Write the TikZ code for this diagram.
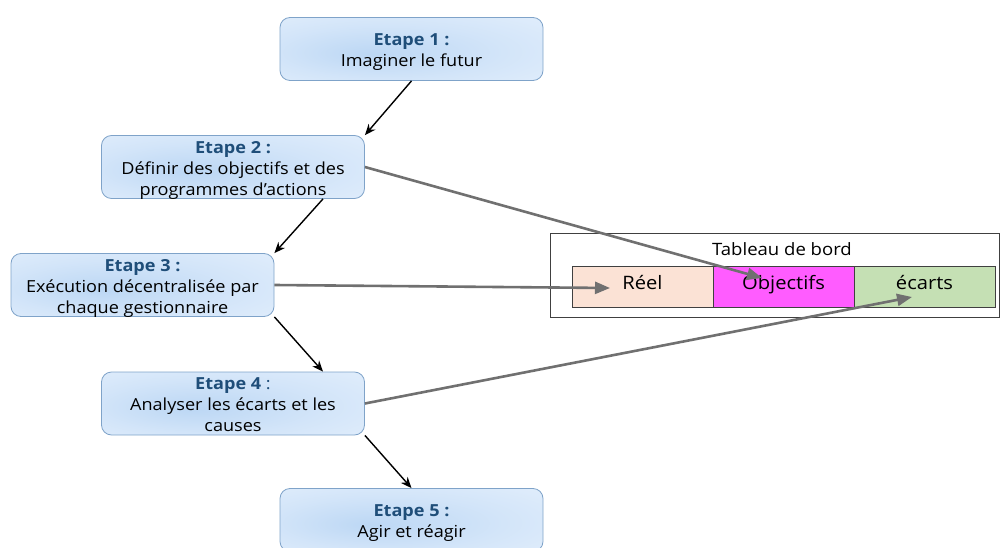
\documentclass[tikz,border=0pt]{standalone}
\usepackage{fontspec}
\setmainfont{Open Sans}[FakeStretch=1.09]
\usetikzlibrary{arrows.meta,calc}
\definecolor{boxborder}{HTML}{7FA3C9}
\definecolor{boxin}{HTML}{BCD7F4}
\definecolor{boxmid}{HTML}{D3E5F9}
\definecolor{boxout}{HTML}{EAF3FD}
\definecolor{titleblue}{HTML}{1F4E79}
\definecolor{linegray}{HTML}{707070}
\definecolor{reelc}{HTML}{FBE2D5}
\definecolor{objc}{HTML}{FF5CFF}
\definecolor{ecartc}{HTML}{C5E0B4}
\definecolor{cellborder}{HTML}{404040}
\pgfdeclareradialshading{boxshade}{\pgfpoint{-8bp}{-4bp}}{color(0bp)=(boxin); color(22bp)=(boxmid); color(50bp)=(boxout)}
\tikzset{
  stepbox/.style={draw=boxborder, line width=0.8pt, rounded corners=10pt,
    shading=boxshade,
    minimum width=263pt, minimum height=63pt,
    font=\fontsize{16.6}{21}\selectfont, inner sep=0pt},
  blackarrow/.style={line width=1.4pt, -{Stealth[length=11pt,width=9pt]}},
  grayarrow/.style={draw=linegray, line width=2.6pt, -{Triangle[length=15pt,width=12pt]}},
  cell/.style={draw=cellborder, line width=0.8pt, minimum width=141pt, minimum height=41pt,
    font=\fontsize{18.5}{20}\selectfont, inner sep=0pt, text height=1.6ex, text depth=0.35ex},
}
\newcommand{\ttl}[1]{\textcolor{titleblue}{\textbf{#1}}}
\newcommand{\boxtext}[1]{\raisebox{-7.5pt}[0pt][0pt]{\begin{tabular}{@{}c@{}}#1\end{tabular}}}
\begin{document}
\begin{tikzpicture}[x=1pt,y=-1pt]
\useasboundingbox (0,0) rectangle (1001,548);
\node[stepbox] (e1) at (411.5,49) {\boxtext{\ttl{Etape 1 :}\\Imaginer le futur}};
\node[stepbox] (e2) at (233,167) {\boxtext{\ttl{Etape 2 :}\\Définir des objectifs et des\\programmes d'actions}};
\node[stepbox] (e3) at (142.5,285) {\boxtext{\ttl{Etape 3 :}\\Exécution décentralisée par\\chaque gestionnaire}};
\node[stepbox] (e4) at (233,403.5) {\boxtext{\ttl{Etape 4} \textcolor{titleblue}{:}\\Analyser les écarts et les\\causes}};
\node[stepbox] (e5) at (411.5,520) {\boxtext{\ttl{Etape 5 :}\\Agir et réagir}};

\node[draw=cellborder, line width=0.8pt, minimum width=449pt, minimum height=84pt, inner sep=0pt] (tb) at (774.5,275) {};
\node[font=\fontsize{17}{20}\selectfont] (tbl) at (782,249) {Tableau de bord};
\node[cell, fill=reelc] (reel) at (642.5,286.5) {Réel};
\node[cell, fill=objc] (obj) at (783.5,286.5) {Objectifs};
\node[cell, fill=ecartc] (ecart) at (924.5,286.5) {écarts};

\coordinate (reelT) at (610,288);
\coordinate (objT) at (762,278);
\coordinate (ecartT) at (912,297);

\draw[blackarrow] (e1.south) -- (e2.north east);
\draw[blackarrow] ($(e2.south)+(90,0)$) -- (e3.north east);
\draw[blackarrow] (e3.south east) -- ($(e4.north)+(90,0)$);
\draw[blackarrow] (e4.south east) -- (e5.north);

\draw[grayarrow] (e2.east) -- (objT);
\draw[grayarrow] (e3.east) -- (reelT);
\draw[grayarrow] (e4.east) -- (ecartT);
\end{tikzpicture}
\end{document}
